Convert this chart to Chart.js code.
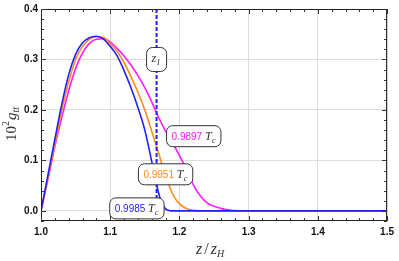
<!DOCTYPE html>
<html>
<head>
<meta charset="utf-8">
<script src="https://cdn.jsdelivr.net/npm/chart.js@4.4.1/dist/chart.umd.min.js"></script>
<style>
  html, body { margin: 0; padding: 0; background: #fff; }
  #wrap { position: relative; width: 399px; height: 261px; }
</style>
</head>
<body>
<div id="wrap"><canvas id="gttChart"></canvas></div>
<script>
// metric component 10^2 g_tt vs z/z_H, three temperatures
const zBlue = [1.00, 1.01, 1.02, 1.03, 1.04, 1.05, 1.06, 1.07, 1.08, 1.09, 1.10, 1.11, 1.12, 1.13, 1.14, 1.15, 1.16, 1.165, 1.17, 1.175, 1.18, 1.185, 1.19, 1.50];
const gBlue = [0, 0.071, 0.142, 0.211, 0.270, 0.310, 0.333, 0.343, 0.346, 0.341, 0.326, 0.307, 0.278, 0.244, 0.205, 0.160, 0.098, 0.065, 0.035, 0.014, 0.004, 0.001, 0, 0];

const zOrange = [1.00, 1.01, 1.02, 1.03, 1.04, 1.05, 1.06, 1.07, 1.08, 1.09, 1.10, 1.11, 1.12, 1.13, 1.14, 1.15, 1.16, 1.17, 1.18, 1.19, 1.20, 1.21, 1.22, 1.23, 1.50];
const gOrange = [0, 0.066, 0.133, 0.200, 0.256, 0.300, 0.326, 0.340, 0.345, 0.344, 0.331, 0.316, 0.294, 0.266, 0.235, 0.200, 0.158, 0.114, 0.070, 0.034, 0.014, 0.005, 0.001, 0, 0];

const zMagenta = [1.00, 1.01, 1.02, 1.03, 1.04, 1.05, 1.06, 1.07, 1.08, 1.09, 1.10, 1.11, 1.12, 1.13, 1.14, 1.15, 1.16, 1.17, 1.18, 1.19, 1.20, 1.21, 1.22, 1.23, 1.24, 1.25, 1.26, 1.27, 1.28, 1.29, 1.50];
const gMagenta = [0, 0.062, 0.128, 0.185, 0.238, 0.282, 0.313, 0.332, 0.340, 0.341, 0.335, 0.322, 0.307, 0.289, 0.268, 0.244, 0.216, 0.185, 0.158, 0.135, 0.110, 0.082, 0.052, 0.030, 0.016, 0.009, 0.005, 0.002, 0.0005, 0, 0];

const zI = 1.167;
const xTicks = [1.0, 1.1, 1.2, 1.3, 1.4, 1.5];
const yTicks = [0.0, 0.1, 0.2, 0.3, 0.4];

const BLUE = '#2020ff';
const ORANGE = '#ff8c1a';
const MAGENTA = '#ff1aff';

const pts = (xs, ys) => xs.map((x, i) => ({ x: x, y: ys[i] }));

// boxed labels, anchored in data coordinates
const labels = [
    { z: 1.167, g: 0.300, num: '', color: BLUE, zI: true },
    { z: 1.2207, g: 0.148, num: '0.9897', color: MAGENTA },
    { z: 1.180, g: 0.0725, num: '0.9951', color: ORANGE },
    { z: 1.1386, g: 0.005, num: '0.9985', color: BLUE }
];

const SERIF = '"Liberation Serif", "DejaVu Serif", serif';
const SANS = '"Liberation Sans", Arial, sans-serif';

function roundRect(ctx, x, y, w, h, r) {
    ctx.beginPath();
    ctx.moveTo(x + r, y);
    ctx.arcTo(x + w, y, x + w, y + h, r);
    ctx.arcTo(x + w, y + h, x, y + h, r);
    ctx.arcTo(x, y + h, x, y, r);
    ctx.arcTo(x, y, x + w, y, r);
    ctx.closePath();
}

const decorPlugin = {
    id: 'decor',
    afterDatasetsDraw(chart) {
        const ctx = chart.ctx;
        const xs = chart.scales.x, ys = chart.scales.y;
        const a = chart.chartArea;
        ctx.save();

        // frame
        ctx.strokeStyle = '#222';
        ctx.lineWidth = 1;
        ctx.strokeRect(a.left + 0.5, a.top + 0.5, a.right - a.left - 1, a.bottom - a.top - 1);

        // inward major / minor ticks on all sides
        ctx.strokeStyle = '#333';
        ctx.beginPath();
        for (let i = 0; i <= 25; i++) {
            const v = 1.0 + i * 0.02;
            const px = Math.round(xs.getPixelForValue(v)) + 0.5;
            const len = (i % 5 === 0) ? 5 : 3;
            ctx.moveTo(px, a.bottom); ctx.lineTo(px, a.bottom - len);
            ctx.moveTo(px, a.top); ctx.lineTo(px, a.top + len);
        }
        for (let i = -1; i <= 20; i++) {
            const v = i * 0.02;
            const py = Math.round(ys.getPixelForValue(v)) + 0.5;
            const len = (i % 5 === 0) ? 5 : 3;
            ctx.moveTo(a.left, py); ctx.lineTo(a.left + len, py);
            ctx.moveTo(a.right, py); ctx.lineTo(a.right - len, py);
        }
        ctx.stroke();

        // boxed labels
        labels.forEach(l => {
            const cx = xs.getPixelForValue(l.z);
            const cy = ys.getPixelForValue(l.g);
            ctx.lineWidth = 1;
            if (l.zI) {
                const w = 20, h = 24;
                roundRect(ctx, cx - w / 2, cy - h / 2, w, h, 6);
                ctx.fillStyle = '#fff'; ctx.fill();
                ctx.strokeStyle = '#333'; ctx.stroke();
                ctx.fillStyle = '#333';
                ctx.textBaseline = 'alphabetic';
                ctx.font = 'italic 12px ' + SERIF;
                ctx.fillText('z', cx - 5, cy + 3);
                ctx.font = 'italic 8px ' + SERIF;
                ctx.fillText('I', cx + 0.5, cy + 5.5);
                return;
            }
            ctx.font = '10px ' + SANS;
            const numW = ctx.measureText(l.num + ' ').width;
            const w = numW + 21, h = 21;
            const x0 = cx - w / 2;
            roundRect(ctx, x0, cy - h / 2, w, h, 6);
            ctx.fillStyle = '#fff'; ctx.fill();
            ctx.strokeStyle = '#333'; ctx.stroke();
            ctx.textBaseline = 'alphabetic';
            ctx.fillStyle = l.color;
            ctx.fillText(l.num, x0 + 5, cy + 3.5);
            ctx.fillStyle = '#333';
            ctx.font = 'italic 12px ' + SERIF;
            ctx.fillText('T', x0 + 5 + numW, cy + 4);
            ctx.font = 'italic 8px ' + SERIF;
            ctx.fillText('c', x0 + 5 + numW + 7, cy + 6.5);
        });

        // x axis title: z / z_H
        ctx.fillStyle = '#333';
        ctx.textBaseline = 'alphabetic';
        let tx = 196;
        ctx.font = 'italic 16px ' + SERIF;
        ctx.fillText('z', tx, 254); tx += ctx.measureText('z').width + 2;
        ctx.font = '16px ' + SERIF;
        ctx.fillText('/', tx, 254); tx += ctx.measureText('/').width + 2;
        ctx.font = 'italic 16px ' + SERIF;
        ctx.fillText('z', tx, 254); tx += ctx.measureText('z').width;
        ctx.font = 'italic 10px ' + SERIF;
        ctx.fillText('H', tx, 257);

        // y axis title: 10^2 g_tt
        ctx.translate(16, 141);
        ctx.rotate(-Math.PI / 2);
        ctx.font = '15px ' + SERIF;
        ctx.fillText('10', 0, 0);
        let off = ctx.measureText('10').width;
        ctx.font = '10px ' + SERIF;
        ctx.fillText('2', off, -7);
        off += ctx.measureText('2').width + 1;
        ctx.font = 'italic 15px ' + SERIF;
        ctx.fillText('g', off, 0);
        off += ctx.measureText('g').width;
        ctx.font = 'italic 10px ' + SERIF;
        ctx.fillText('tt', off, 3);
        ctx.restore();
    }
};

const lineOpts = (color) => ({
    borderColor: color,
    backgroundColor: color,
    borderWidth: 1.6,
    pointRadius: 0,
    fill: false,
    cubicInterpolationMode: 'monotone'
});

new Chart(document.getElementById('gttChart'), {
    type: 'line',
    data: {
        datasets: [
            Object.assign({ label: '0.9985 Tc', data: pts(zBlue, gBlue), order: 1 }, lineOpts(BLUE)),
            Object.assign({ label: '0.9951 Tc', data: pts(zOrange, gOrange), order: 2 }, lineOpts(ORANGE)),
            Object.assign({ label: '0.9897 Tc', data: pts(zMagenta, gMagenta), order: 3 }, lineOpts(MAGENTA)),
            {
                label: 'z_I',
                data: [{ x: zI, y: 0 }, { x: zI, y: 0.4 }],
                borderColor: BLUE,
                borderWidth: 2,
                borderDash: [4, 2],
                pointRadius: 0,
                order: 0
            }
        ]
    },
    options: {
        responsive: true,
        maintainAspectRatio: false,
        animation: false,
        layout: { padding: { top: 7, right: 8, left: 0, bottom: 0 } },
        plugins: {
            legend: { display: false },
            tooltip: { enabled: false }
        },
        scales: {
            x: {
                type: 'linear',
                min: 1.0,
                max: 1.5,
                afterBuildTicks: s => { s.ticks = xTicks.map(v => ({ value: v })); },
                afterFit: s => { s.height = 40; },
                grid: { color: '#dcdcdc', lineWidth: 1, drawTicks: false },
                border: { display: false },
                ticks: {
                    color: '#111',
                    padding: 5,
                    maxRotation: 0,
                    font: { family: SANS, size: 10, weight: 'bold' },
                    callback: v => v.toFixed(1)
                }
            },
            y: {
                type: 'linear',
                min: -0.02,
                max: 0.4,
                afterBuildTicks: s => { s.ticks = yTicks.map(v => ({ value: v })); },
                afterFit: s => { s.width = 41; },
                grid: { color: '#dcdcdc', lineWidth: 1, drawTicks: false },
                border: { display: false },
                ticks: {
                    color: '#111',
                    padding: 3,
                    font: { family: SANS, size: 10, weight: 'bold' },
                    callback: v => v.toFixed(1)
                }
            }
        }
    },
    plugins: [decorPlugin]
});
</script>
</body>
</html>
